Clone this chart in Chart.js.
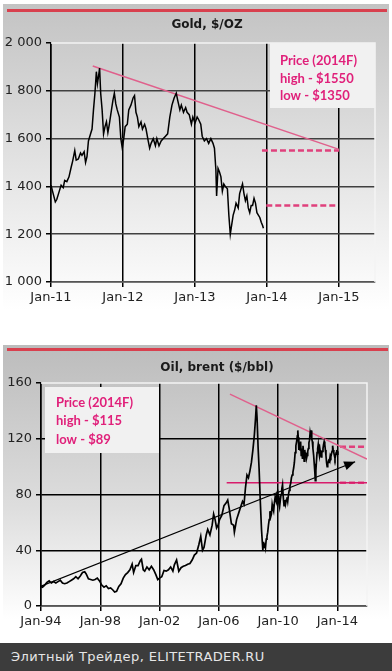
<!DOCTYPE html>
<html><head><meta charset="utf-8">
<script src="https://cdn.jsdelivr.net/npm/chart.js@4/dist/chart.umd.min.js"></script>
<style>
body{margin:0;width:392px;height:671px;background:#fff;position:relative;overflow:hidden;font-family:"DejaVu Sans",sans-serif}
.panel{position:absolute;left:3px;width:386px}
#p1{top:4px;height:322px;background:linear-gradient(#c3c3c3 0%,#e6e6e6 55%,#ffffff 95%)}
#p2{top:345px;height:298px;background:linear-gradient(#bcbcbc 0%,#dedede 55%,#ffffff 92%)}
.red{position:absolute;left:7px;width:380px;height:3px;background:#d8404e}
#c1{position:absolute;left:0;top:0}
#c2{position:absolute;left:0;top:340px}
#foot{position:absolute;left:0;top:643px;width:392px;height:28px;background:#3c3c3c;color:#e6e6e6;font:13px "DejaVu Sans",sans-serif;letter-spacing:0.4px;line-height:28px;padding-left:11px;box-sizing:border-box}
</style></head>
<body>
<div class="panel" id="p1"></div>
<div class="panel" id="p2"></div>
<div class="red" style="top:9px"></div>
<div class="red" style="top:348px;width:381px"></div>
<canvas id="c1" width="392" height="320"></canvas>
<canvas id="c2" width="392" height="300"></canvas>
<div id="foot">Элитный Трейдер, ELITETRADER.RU</div>
<script>
// ---------- GOLD DATA ----------
const goldDates = [2011.00,2011.03,2011.06,2011.08,2011.11,2011.14,2011.17,2011.19,2011.22,2011.25,2011.28,2011.30,2011.33,2011.35,2011.38,2011.41,2011.43,2011.46,2011.48,2011.50,2011.52,2011.55,2011.57,2011.59,2011.61,2011.63,2011.645,2011.66,2011.675,2011.69,2011.71,2011.73,2011.75,2011.77,2011.79,2011.81,2011.83,2011.86,2011.88,2011.90,2011.92,2011.95,2011.97,2011.99,2012.01,2012.03,2012.06,2012.08,2012.11,2012.14,2012.16,2012.18,2012.20,2012.22,2012.25,2012.27,2012.30,2012.32,2012.35,2012.37,2012.39,2012.42,2012.45,2012.47,2012.50,2012.53,2012.56,2012.59,2012.62,2012.65,2012.68,2012.71,2012.74,2012.76,2012.79,2012.81,2012.84,2012.87,2012.89,2012.92,2012.95,2012.97,2013.00,2013.03,2013.05,2013.08,2013.10,2013.13,2013.16,2013.19,2013.22,2013.25,2013.27,2013.29,2013.30,2013.32,2013.34,2013.36,2013.38,2013.40,2013.42,2013.45,2013.47,2013.49,2013.51,2013.53,2013.55,2013.57,2013.60,2013.62,2013.64,2013.66,2013.68,2013.70,2013.72,2013.74,2013.76,2013.78,2013.80,2013.82,2013.84,2013.86,2013.88,2013.90,2013.92,2013.94,2013.95];
const goldPrices = [1405,1370,1335,1345,1375,1405,1395,1425,1420,1440,1480,1505,1550,1510,1515,1540,1530,1545,1500,1525,1590,1620,1640,1720,1790,1880,1830,1860,1895,1790,1720,1620,1650,1670,1625,1660,1700,1760,1790,1745,1720,1690,1600,1560,1600,1650,1660,1720,1740,1770,1780,1710,1690,1650,1670,1640,1660,1640,1590,1560,1580,1600,1570,1600,1570,1590,1600,1610,1620,1690,1740,1770,1790,1760,1720,1740,1710,1730,1710,1700,1660,1690,1665,1690,1680,1660,1610,1590,1600,1580,1600,1580,1560,1470,1360,1475,1460,1440,1380,1410,1400,1390,1280,1200,1240,1280,1300,1330,1310,1370,1390,1410,1370,1340,1360,1310,1290,1320,1320,1350,1330,1290,1280,1270,1250,1235,1225];
const goldTrendDates = [2011.58, 2015.0];
const goldTrendPrices = [1904, 1555];
const goldHighDates = [2013.93, 2015.0];
const goldHigh = [1550, 1550];
const goldLowDates = [2013.99, 2014.96];
const goldLow = [1320, 1320];
const goldXTicks = [2011, 2012, 2013, 2014, 2015];
const goldXLabels = ['Jan-11', 'Jan-12', 'Jan-13', 'Jan-14', 'Jan-15'];
const goldYTicks = [1000, 1200, 1400, 1600, 1800, 2000];
const goldYLabels = ['1 000', '1 200', '1 400', '1 600', '1 800', '2 000'];
const goldNote = ['Price (2014F)', 'high - $1550', 'low - $1350'];

// ---------- OIL DATA ----------
const oilDates = [1994.00,1994.10,1994.25,1994.40,1994.55,1994.70,1994.85,1995.00,1995.15,1995.30,1995.45,1995.60,1995.75,1995.90,1996.05,1996.20,1996.35,1996.50,1996.65,1996.80,1996.95,1997.05,1997.20,1997.35,1997.50,1997.65,1997.80,1997.95,1998.10,1998.25,1998.40,1998.55,1998.70,1998.85,1998.97,1999.10,1999.25,1999.40,1999.55,1999.70,1999.85,2000.00,2000.15,2000.25,2000.40,2000.55,2000.70,2000.78,2000.90,2001.00,2001.15,2001.30,2001.45,2001.60,2001.75,2001.88,2002.00,2002.15,2002.30,2002.45,2002.60,2002.75,2002.90,2003.00,2003.15,2003.30,2003.45,2003.60,2003.75,2003.90,2004.05,2004.20,2004.35,2004.50,2004.65,2004.78,2004.90,2005.00,2005.15,2005.25,2005.40,2005.55,2005.65,2005.75,2005.85,2005.95,2006.05,2006.20,2006.35,2006.50,2006.60,2006.70,2006.85,2007.00,2007.05,2007.20,2007.35,2007.50,2007.60,2007.70,2007.80,2007.90,2008.00,2008.10,2008.20,2008.30,2008.40,2008.48,2008.53,2008.58,2008.65,2008.72,2008.80,2008.88,2008.97,2009.02,2009.05,2009.10,2009.15,2009.20,2009.25,2009.30,2009.35,2009.40,2009.45,2009.50,2009.55,2009.60,2009.65,2009.70,2009.75,2009.80,2009.85,2009.90,2009.95,2010.00,2010.05,2010.10,2010.15,2010.20,2010.25,2010.30,2010.35,2010.40,2010.45,2010.50,2010.55,2010.60,2010.65,2010.70,2010.75,2010.80,2010.85,2010.90,2010.95,2011.00,2011.05,2011.10,2011.15,2011.20,2011.25,2011.30,2011.33,2011.36,2011.40,2011.44,2011.48,2011.52,2011.56,2011.60,2011.64,2011.68,2011.72,2011.76,2011.80,2011.84,2011.88,2011.92,2011.96,2012.00,2012.04,2012.08,2012.12,2012.16,2012.20,2012.23,2012.27,2012.31,2012.35,2012.40,2012.44,2012.48,2012.51,2012.55,2012.59,2012.63,2012.67,2012.71,2012.75,2012.79,2012.83,2012.87,2012.91,2012.95,2012.99,2013.03,2013.07,2013.11,2013.15,2013.19,2013.23,2013.27,2013.31,2013.35,2013.40,2013.44,2013.48,2013.52,2013.56,2013.60,2013.64,2013.68,2013.72,2013.76,2013.80,2013.84,2013.88,2013.92,2013.96,2014.00,2014.03];
const oilPrices = [14.0,13.5,15.0,17.0,18.0,16.5,17.5,16.5,17.5,18.5,16.5,16.0,16.5,17.5,18.5,19.5,21.0,19.5,21.5,24.0,24.5,23.0,19.5,19.0,18.5,19.0,20.0,18.0,15.0,13.5,14.5,12.5,13.0,11.5,10.0,10.5,14.0,16.0,20.0,22.5,24.0,26.0,30.0,24.0,29.0,29.0,32.5,33.5,26.0,25.0,28.0,26.0,28.5,26.0,22.5,19.0,20.0,21.0,25.5,25.0,26.0,28.0,25.0,29.5,33.0,25.0,27.5,28.5,29.0,30.0,30.5,33.0,36.5,38.0,44.0,50.0,40.0,42.0,51.0,55.0,51.0,58.0,66.0,62.0,56.0,58.0,62.0,65.0,72.0,74.0,76.0,70.0,59.0,58.0,53.0,62.0,67.0,72.0,75.0,73.0,85.0,94.0,92.0,97.0,103.0,112.0,123.0,135.0,144.0,135.0,114.0,98.0,75.0,55.0,40.0,46,42,45,42,48,50,53,58,62,68,64,66,73,70,68,74,78,76,79,75,79,74,71,76,80,84,87,78,72,76,73,76,78,75,80,83,86,88,92,94,96,99,103,110,115,118,122,126,121,112,117,112,118,108,113,106,115,110,104,112,108,110,106,108,111,113,117,119,124,121,126,120,118,113,108,102,96,90,97,104,110,113,116,111,108,112,109,107,110,111,113,116,118,116,112,108,103,100,102,104,103,105,108,107,109,111,115,112,110,108,106,108,110,112,109,111];
const oilTrendDates = [2006.75, 2016.0];
const oilTrendPrices = [152, 105.5];
const oilSupportDates = [2006.53, 2016.0];
const oilSupport = [88.5, 88.5];
const oilHighDates = [2014.18, 2016.0];
const oilHigh = [114.2, 114.2];
const oilLowDates = [2014.18, 2016.0];
const oilLow = [88.5, 88.5];
const oilArrowDates = [1994.0, 2015.2];
const oilArrowPrices = [14.3, 103.5];
const oilXTicks = [1994, 1998, 2002, 2006, 2010, 2014];
const oilXLabels = ['Jan-94', 'Jan-98', 'Jan-02', 'Jan-06', 'Jan-10', 'Jan-14'];
const oilYTicks = [0, 40, 80, 120, 160];
const oilYLabels = ['0', '40', '80', '120', '160'];
const oilNote = ['Price (2014F)', 'high - $115', 'low - $89'];

// ---------- helpers ----------
const pts = (xs, ys) => xs.map((x, i) => ({x: x, y: ys[i]}));
const PINK = '#e0207a';
const TICKFONT = {family: 'DejaVu Sans', size: 13};

const decor = {
  id: 'decor',
  beforeDatasetsDraw(chart, args, o) {
    const ctx = chart.ctx, a = chart.chartArea;
    ctx.save();
    ctx.strokeStyle = '#f4f4f4'; ctx.lineWidth = 1.5;
    ctx.beginPath(); ctx.moveTo(a.left, a.top); ctx.lineTo(a.right, a.top); ctx.lineTo(a.right, a.bottom); ctx.stroke();
    const b = o.box;
    const bx = b.fromRight ? a.right - b.w : a.left + b.dx;
    const by = a.top + b.dy;
    ctx.fillStyle = '#f1f1f1';
    ctx.fillRect(bx, by, b.w, b.h);
    ctx.fillStyle = PINK;
    ctx.font = 'bold 13px Lato, "Open Sans", sans-serif';
    ctx.textBaseline = 'middle'; ctx.textAlign = 'left';
    o.lines.forEach((t, i) => ctx.fillText(t, bx + b.tx, by + b.ty[i]));
    ctx.restore();
  },
  afterDraw(chart, args, o) {
    const ctx = chart.ctx;
    ctx.save();
    ctx.fillStyle = '#1a1a1a';
    ctx.font = 'bold 12px "DejaVu Sans", sans-serif';
    ctx.textAlign = 'center'; ctx.textBaseline = 'middle';
    ctx.fillText(o.title, o.tx, o.ty);
    if (o.arrowIndex !== undefined) {
      const d = chart.getDatasetMeta(o.arrowIndex).data;
      const p1 = d[d.length - 2], p2 = d[d.length - 1];
      const ang = Math.atan2(p2.y - p1.y, p2.x - p1.x);
      const L = 11, W = 4.5;
      ctx.fillStyle = '#000';
      ctx.beginPath();
      ctx.moveTo(p2.x, p2.y);
      ctx.lineTo(p2.x - L * Math.cos(ang) + W * Math.sin(ang), p2.y - L * Math.sin(ang) - W * Math.cos(ang));
      ctx.lineTo(p2.x - L * Math.cos(ang) - W * Math.sin(ang), p2.y - L * Math.sin(ang) + W * Math.cos(ang));
      ctx.closePath(); ctx.fill();
    }
    ctx.restore();
  }
};

function axes(xT, xL, xMin, xMax, yT, yL, yMin, yMax, yW, xH, hGrid) {
  return {
    x: {
      type: 'linear', min: xMin, max: xMax,
      afterBuildTicks: s => { s.ticks = xT.map(v => ({value: v})); },
      afterFit: s => { s.height = xH; },
      ticks: {callback: (v, i) => xL[i], color: '#222', font: TICKFONT, padding: 3, maxRotation: 0, autoSkip: false},
      grid: {color: '#000', lineWidth: 1.5, tickLength: 5, tickColor: '#000'},
      border: {color: '#555', width: 1.5}
    },
    y: {
      min: yMin, max: yMax,
      afterBuildTicks: s => { s.ticks = yT.map(v => ({value: v})); },
      afterFit: s => { s.width = yW; },
      ticks: {callback: (v, i) => yL[i], color: '#222', font: TICKFONT, padding: 4},
      grid: {color: c => (c.tick && c.tick.value === yMax) ? 'rgba(0,0,0,0)' : hGrid, lineWidth: 1.5, tickLength: 5, tickColor: '#000'},
      border: {color: '#000', width: 1.5}
    }
  };
}

const common = {
  responsive: false, maintainAspectRatio: false, devicePixelRatio: 1, animation: false,
  elements: {point: {radius: 0}, line: {tension: 0}},
};

new Chart(document.getElementById('c1'), {
  type: 'line',
  data: {datasets: [
    {data: pts(goldDates, goldPrices), borderColor: '#000', borderWidth: 1.5},
    {data: pts(goldTrendDates, goldTrendPrices), borderColor: '#e0608c', borderWidth: 1.5},
    {data: pts(goldHighDates, goldHigh), borderColor: '#e0407c', borderWidth: 2.5, borderDash: [6, 3]},
    {data: pts(goldLowDates, goldLow), borderColor: '#e0407c', borderWidth: 2.5, borderDash: [6, 3]}
  ]},
  options: Object.assign({}, common, {
    layout: {padding: {top: 43, right: 17, left: 0, bottom: 0}},
    scales: axes(goldXTicks, goldXLabels, 2011, 2015.5, goldYTicks, goldYLabels, 1000, 2000, 51, 38, '#404040'),
    plugins: {legend: {display: false}, tooltip: {enabled: false},
      decor: {title: 'Gold, $/OZ', tx: 207, ty: 25, lines: goldNote,
        box: {fromRight: true, w: 105, h: 65, dy: 0, tx: 10, ty: [18, 36, 53]}}}
  }),
  plugins: [decor]
});

new Chart(document.getElementById('c2'), {
  type: 'line',
  data: {datasets: [
    {data: pts(oilDates, oilPrices), borderColor: '#000', borderWidth: 1.7},
    {data: pts(oilArrowDates, oilArrowPrices), borderColor: '#000', borderWidth: 1.2},
    {data: pts(oilTrendDates, oilTrendPrices), borderColor: '#e0608c', borderWidth: 1.5},
    {data: pts(oilSupportDates, oilSupport), borderColor: '#d81c6c', borderWidth: 1.5},
    {data: pts(oilHighDates, oilHigh), borderColor: '#e0407c', borderWidth: 2.5, borderDash: [6, 3]},
    {data: pts(oilLowDates, oilLow), borderColor: '#e0407c', borderWidth: 2.5, borderDash: [6, 3]}
  ]},
  options: Object.assign({}, common, {
    layout: {padding: {top: 43, right: 25, left: 0, bottom: 0}},
    scales: axes(oilXTicks, oilXLabels, 1994, 2016, oilYTicks, oilYLabels, 0, 160, 41, 34, '#000'),
    plugins: {legend: {display: false}, tooltip: {enabled: false},
      decor: {title: 'Oil, brent ($/bbl)', tx: 217, ty: 28, arrowIndex: 1, lines: oilNote,
        box: {fromRight: false, dx: 4, w: 114, h: 66, dy: 4, tx: 11, ty: [16, 34, 53]}}}
  }),
  plugins: [decor]
});
</script>
</body></html>
